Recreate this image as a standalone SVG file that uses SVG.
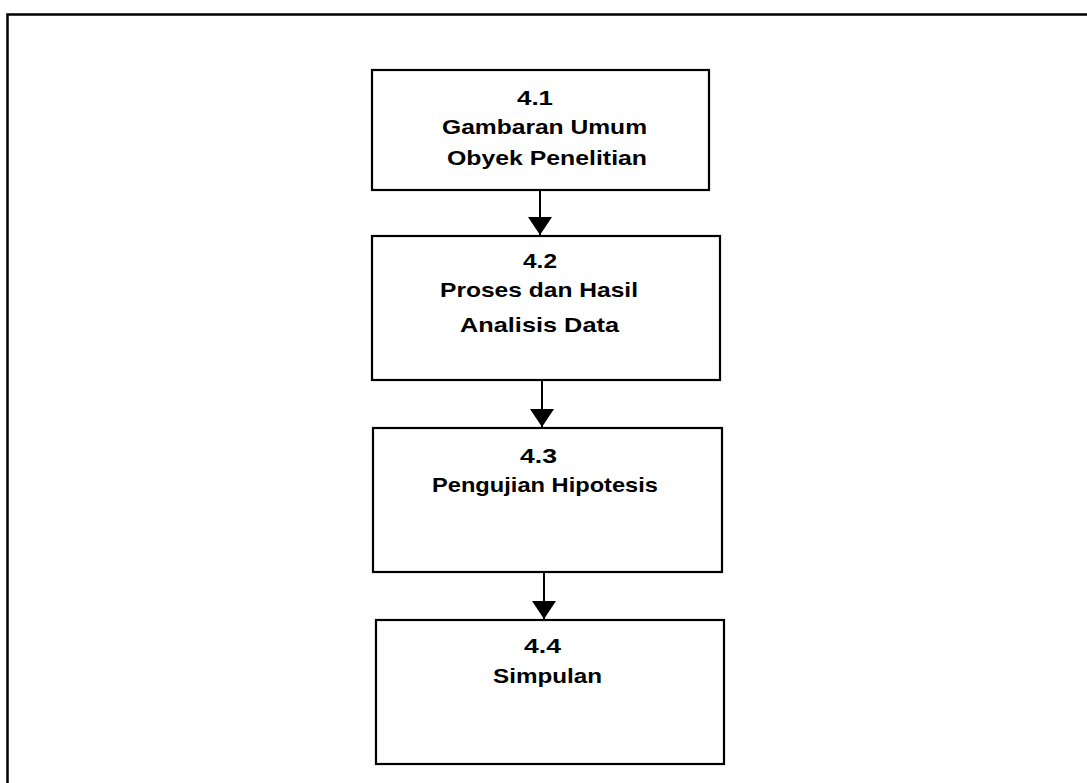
<svg xmlns="http://www.w3.org/2000/svg" width="1087" height="783" viewBox="0 0 1087 783">
<style>
.box{fill:#fff;stroke:#000;stroke-width:2.2}
.t{font-family:"Liberation Sans",Arial,sans-serif;font-weight:bold;font-size:21px;fill:#000}
.c{stroke:#000;stroke-width:2;fill:none}
</style>
<defs>
<marker id="ah" markerUnits="userSpaceOnUse" markerWidth="20" markerHeight="26" refX="18" refY="13" orient="auto" viewBox="0 0 20 26">
<path d="M0,1 L18,13 L0,25 Z" fill="#000"/>
</marker>
</defs>
<rect width="1087" height="783" fill="#fff"/>
<path d="M7.5,783 L7.5,14.5 L1087,14.5" fill="none" stroke="#000" stroke-width="2.5"/>
<g id="connectors">
<path class="c" d="M540,190 L540,235" marker-end="url(#ah)"/>
<path class="c" d="M542,380 L542,427" marker-end="url(#ah)"/>
<path class="c" d="M544,572 L544,619" marker-end="url(#ah)"/>
</g>
<g id="n41">
<rect class="box" x="372" y="70" width="337" height="120"/>
<text class="t" x="517" y="105" textLength="36" lengthAdjust="spacingAndGlyphs">4.1</text>
<text class="t" x="442" y="134" textLength="205" lengthAdjust="spacingAndGlyphs">Gambaran Umum</text>
<text class="t" x="447" y="165" textLength="200" lengthAdjust="spacingAndGlyphs">Obyek Penelitian</text>
</g>
<g id="n42">
<rect class="box" x="372" y="236" width="348" height="144"/>
<text class="t" x="523" y="268" textLength="34" lengthAdjust="spacingAndGlyphs">4.2</text>
<text class="t" x="440" y="297" textLength="198" lengthAdjust="spacingAndGlyphs">Proses dan Hasil</text>
<text class="t" x="460" y="332" textLength="159" lengthAdjust="spacingAndGlyphs">Analisis Data</text>
</g>
<g id="n43">
<rect class="box" x="373" y="428" width="349" height="144"/>
<text class="t" x="520" y="463" textLength="37" lengthAdjust="spacingAndGlyphs">4.3</text>
<text class="t" x="432" y="492" textLength="226" lengthAdjust="spacingAndGlyphs">Pengujian Hipotesis</text>
</g>
<g id="n44">
<rect class="box" x="376" y="620" width="348" height="144"/>
<text class="t" x="524" y="653" textLength="37" lengthAdjust="spacingAndGlyphs">4.4</text>
<text class="t" x="493" y="683" textLength="109" lengthAdjust="spacingAndGlyphs">Simpulan</text>
</g>
</svg>
